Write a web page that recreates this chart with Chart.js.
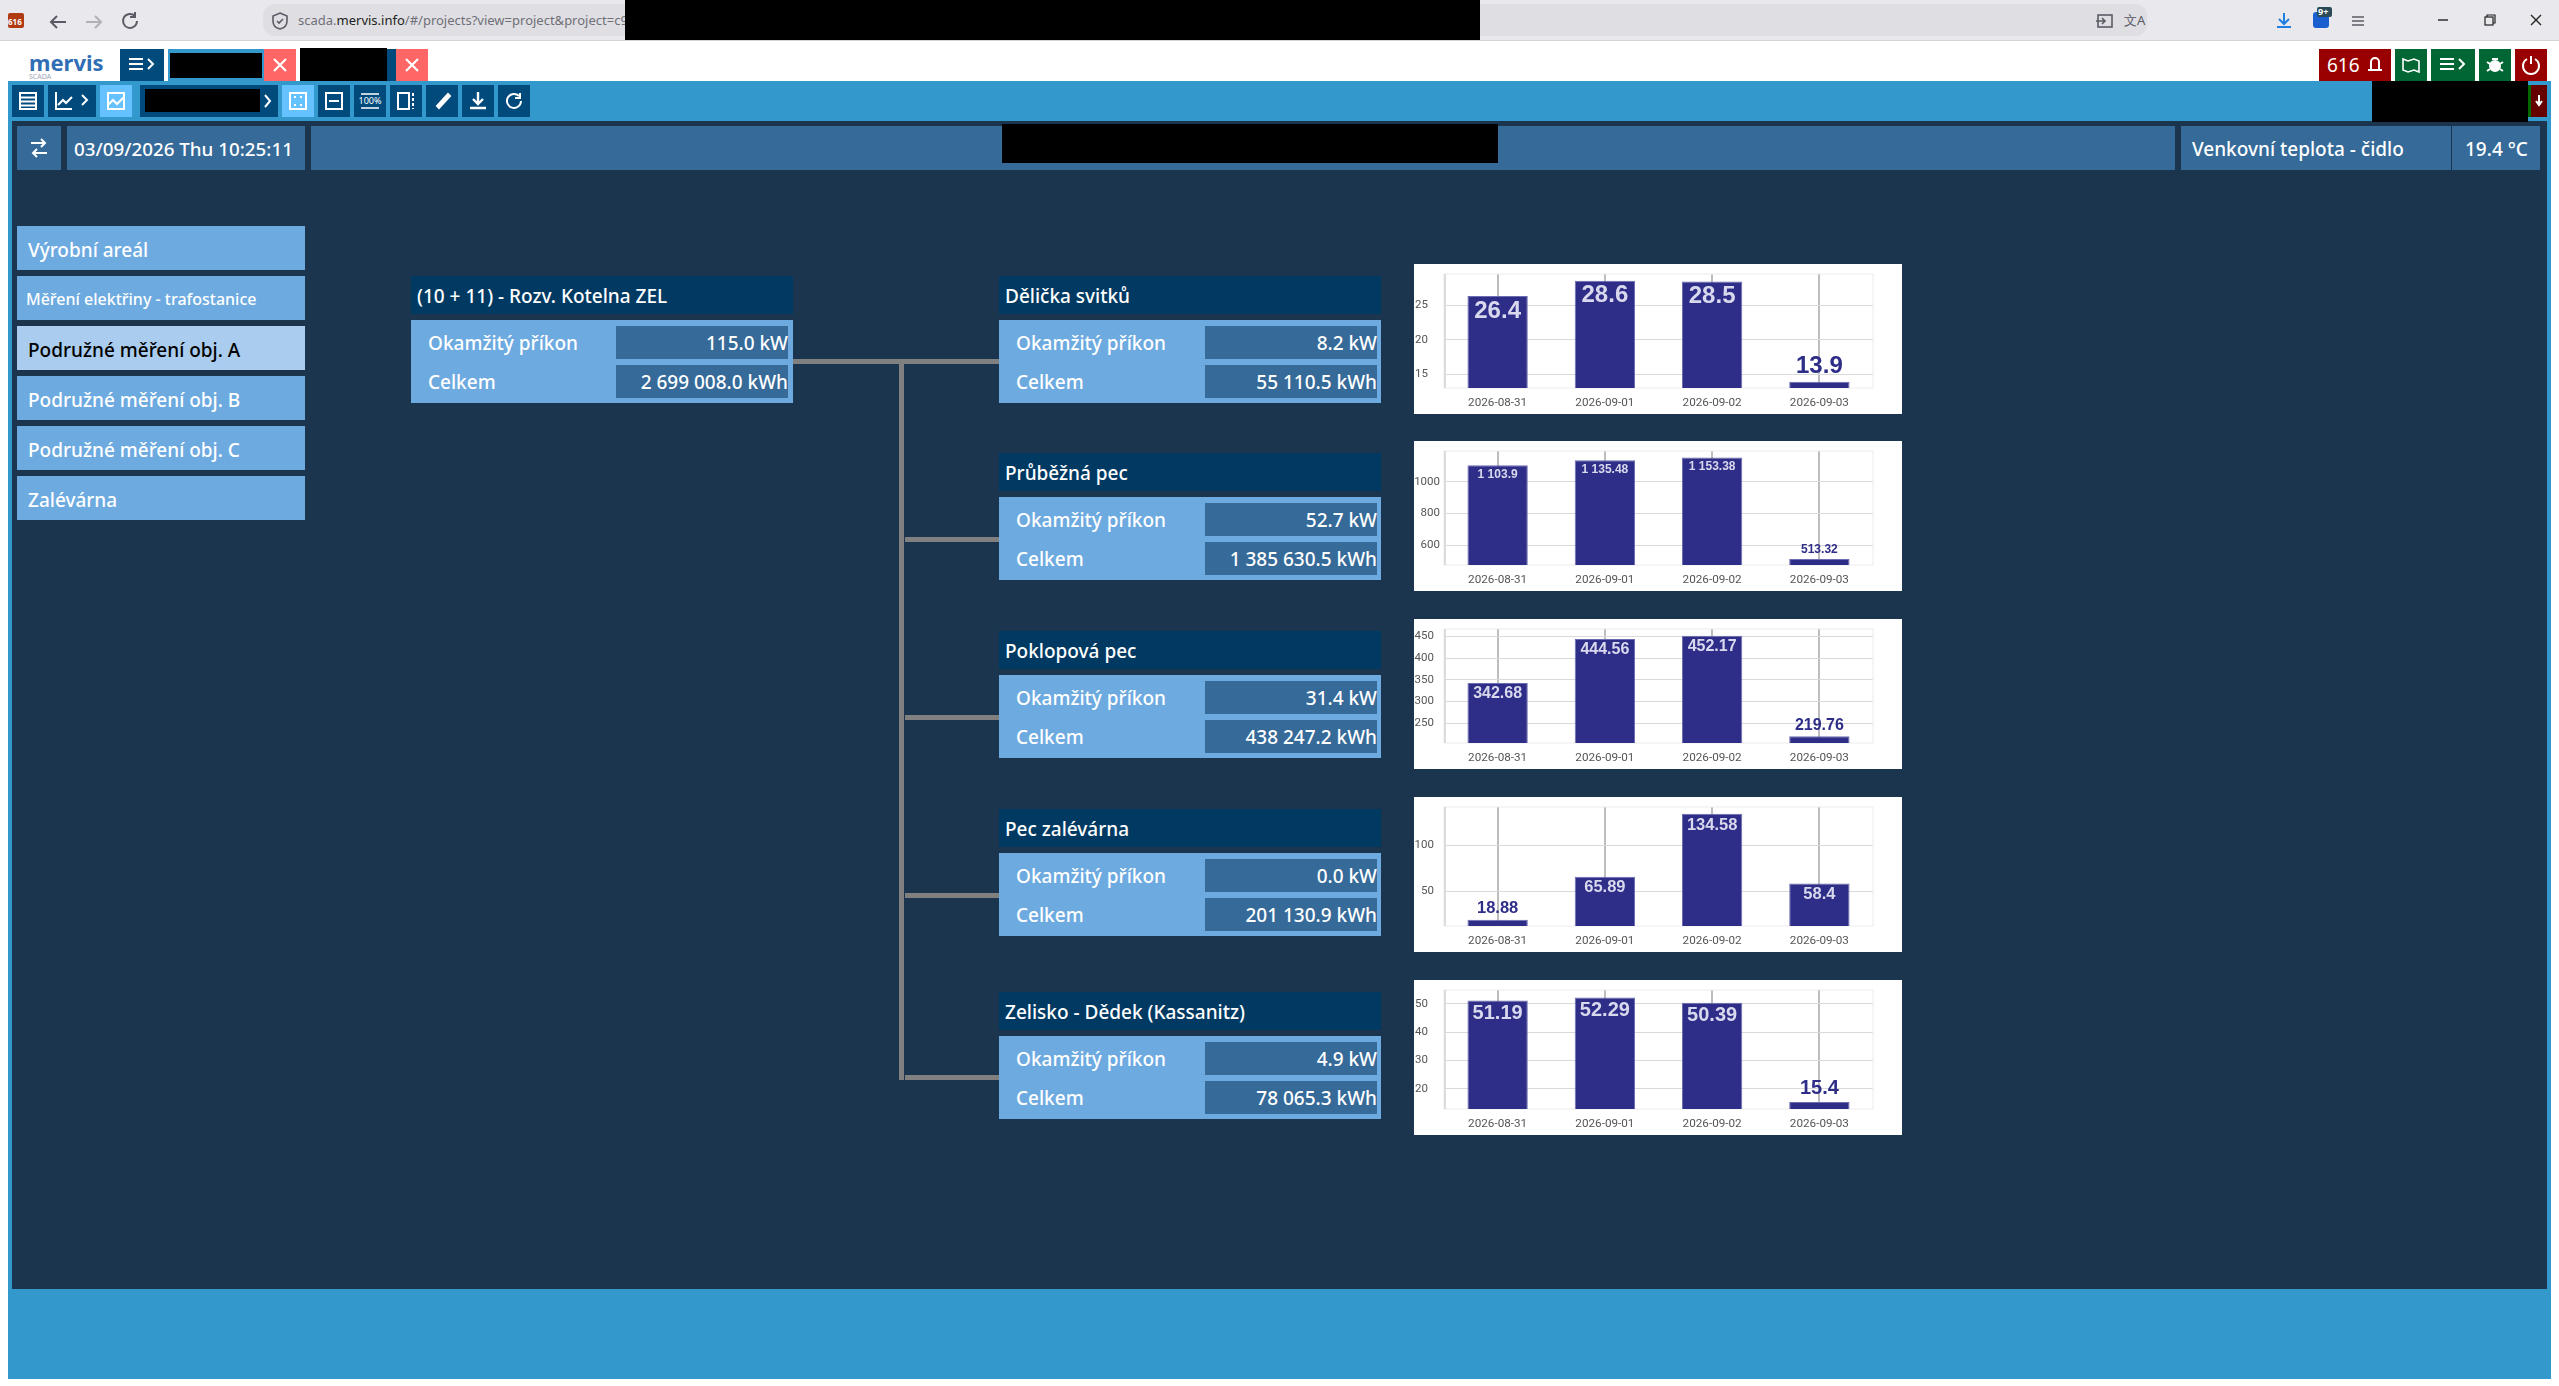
<!DOCTYPE html>
<html>
<head>
<meta charset="utf-8">
<title>mervis</title>
<script src="https://cdn.jsdelivr.net/npm/chart.js@4"></script>
<style>
html, body { margin: 0; padding: 0; background: #fff; width: 2559px; height: 1386px; overflow: hidden; font-family: "Noto Sans", sans-serif; }
.box { position: absolute; box-sizing: border-box; }
.txt { position: absolute; box-sizing: border-box; white-space: nowrap; color: #fff; display: flex; align-items: center; line-height: 1.1; }
.txt.right { justify-content: flex-end; }
canvas { display: block; }
svg { position: absolute; overflow: visible; }
</style>
</head>
<body>
<script>
const days = ["2026-08-31", "2026-09-01", "2026-09-02", "2026-09-03"];

// denni spotreba kWh
const delickaValues = [26.4, 28.6, 28.5, 13.9];
const prubeznaValues = [1103.9, 1135.48, 1153.38, 513.32];
const poklopovaValues = [342.68, 444.56, 452.17, 219.76];
const zalevarnaValues = [18.88, 65.89, 134.58, 58.4];
const zeliskoValues = [51.19, 52.29, 50.39, 15.4];

const delickaTicks = [15, 20, 25];
const prubeznaTicks = [600, 800, 1000];
const poklopovaTicks = [250, 300, 350, 400, 450];
const zalevarnaTicks = [50, 100];
const zeliskoTicks = [20, 30, 40, 50];

const panelNames = ["Dělička svitků", "Průběžná pec", "Poklopová pec", "Pec zalévárna", "Zelisko - Dědek (Kassanitz)"];
const panelPower = ["8.2 kW", "52.7 kW", "31.4 kW", "0.0 kW", "4.9 kW"];
const panelTotal = ["55 110.5 kWh", "1 385 630.5 kWh", "438 247.2 kWh", "201 130.9 kWh", "78 065.3 kWh"];
const menuItems = ["Výrobní areál", "Měření elektřiny - trafostanice", "Podružné měření obj. A", "Podružné měření obj. B", "Podružné měření obj. C", "Zalévárna"];

const BAR_COLOR = "#2e2d88";

function box(x, y, w, h, color, radius) {
    const d = document.createElement("div");
    d.className = "box";
    d.style.cssText = `left:${x}px;top:${y}px;width:${w}px;height:${h}px;background:${color};` + (radius ? `border-radius:${radius}px;` : "");
    document.body.appendChild(d);
    return d;
}

function text(str, x, y, w, h, size, opts) {
    opts = opts || {};
    const d = document.createElement("div");
    d.className = "txt" + (opts.right ? " right" : "");
    d.style.cssText = `left:${x}px;top:${y}px;width:${w}px;height:${h}px;font-size:${size}px;font-weight:${opts.weight || 500};color:${opts.color || "#fff"};`;
    d.textContent = str;
    document.body.appendChild(d);
    return d;
}

function icon(x, y, w, h, inner) {
    const ns = `<svg xmlns="http://www.w3.org/2000/svg" style="left:${x}px;top:${y}px" width="${w}" height="${h}" viewBox="0 0 ${w} ${h}" fill="none" stroke="#fff" stroke-width="2">${inner}</svg>`;
    document.body.insertAdjacentHTML("beforeend", ns);
}

// prohlizec nahore
box(0, 0, 2559, 40, "#e9e9ed");
box(0, 40, 2559, 1, "#d4d4d8");
box(263, 4, 1884, 32, "#dfdfe3", 12);
box(8, 13, 16, 15, "#b03a14", 2);
text("616", 8, 17, 16, 10, 8, { weight: 700 });
icon(48, 12, 20, 16, '<path d="M18 10H3M9 4l-6 6 6 6" stroke="#5b5b66"/>');
icon(84, 12, 20, 16, '<path d="M2 10h15M11 4l6 6-6 6" stroke="#b0b0b6"/>');
icon(120, 11, 18, 18, '<path d="M15 5a7 7 0 1 0 2 5M15 1v5h-5" stroke="#5b5b66"/>');
icon(272, 12, 16, 18, '<path d="M8 1l7 3v5c0 4-3 7-7 8-4-1-7-4-7-8V4z" stroke="#5b5b66" stroke-width="1.6"/><path d="M5 9l2 2 4-4" stroke="#5b5b66" stroke-width="1.6"/>');
const url = text("", 298, 4, 330, 32, 13, { color: "#6f6f78", weight: 400 });
url.innerHTML = 'scada.<span style="color:#222">mervis.info</span>/#/projects?view=project&amp;project=c9';
box(625, 0, 855, 40, "#000");
icon(2095, 13, 18, 16, '<rect x="3" y="2" width="14" height="12" stroke="#5b5b66" stroke-width="1.6"/><path d="M1 8h9M7 5l3 3-3 3" stroke="#5b5b66" stroke-width="1.6"/>');
text("文A", 2124, 10, 24, 20, 13, { color: "#5b5b66", weight: 400 });
icon(2276, 12, 16, 17, '<path d="M8 1v11M3 7l5 5 5-5M1 15h14" stroke="#1f7fe0"/>');
box(2313, 12, 16, 16, "#1a5fd0", 3);
box(2317, 7, 15, 10, "#2b4a58", 2);
text("9+", 2318, 7, 14, 10, 9, { weight: 700 });
icon(2351, 15, 14, 12, '<path d="M1 2h12M1 6h12M1 10h12" stroke="#5b5b66" stroke-width="1.4"/>');
icon(2438, 19, 12, 2, '<path d="M0 1h10" stroke="#222" stroke-width="1.4"/>');
icon(2484, 14, 12, 12, '<rect x="1" y="3" width="8" height="8" stroke="#222" stroke-width="1.2"/><path d="M3 3V1h8v8H9" stroke="#222" stroke-width="1.2"/>');
icon(2530, 14, 12, 12, '<path d="M1 1l10 10M11 1L1 11" stroke="#222" stroke-width="1.4"/>');

// horni radek aplikace
text("mervis", 29, 51, 76, 22, 22, { color: "#2f6eb5", weight: 700 });
text("SCADA", 29, 73, 30, 8, 7, { color: "#9aa6b5", weight: 400 });
box(120, 49, 44, 32, "#004a7c");
icon(129, 57, 26, 16, '<path d="M0 2h14M0 7h14M0 12h14M19 2l5 5-5 5" />');
box(168, 49, 96, 32, "#3398cc");
box(170, 53, 92, 25, "#000");
box(264, 49, 32, 32, "#ff6666");
icon(273, 58, 14, 14, '<path d="M1 1l12 12M13 1L1 13" stroke-width="2.2"/>');
box(387, 49, 9, 32, "#004a7c");
box(396, 49, 32, 32, "#ff6666");
icon(405, 58, 14, 14, '<path d="M1 1l12 12M13 1L1 13" stroke-width="2.2"/>');
box(300, 48, 87, 36, "#000");

box(2319, 49, 72, 32, "#990000");
text("616", 2327, 49, 36, 32, 19, { weight: 400 });
icon(2367, 56, 16, 18, '<path d="M4 14V6a4 4 0 0 1 8 0v8M1 14h14" />');
box(2395, 49, 32, 32, "#006633");
icon(2402, 57, 18, 16, '<path d="M1 2l5 2 6-2 5 2v11l-5-2-6 2-5-2z" stroke-width="1.6"/>');
box(2431, 49, 44, 32, "#006633");
icon(2440, 57, 26, 16, '<path d="M0 2h14M0 7h14M0 12h14M19 2l5 5-5 5" />');
box(2479, 49, 32, 32, "#006633");
icon(2487, 56, 16, 18, '<circle cx="8" cy="10" r="5" fill="#fff"/><path d="M0 6l3 2M16 6l-3 2M0 15l3-2M16 15l-3-2M5 3h6"/>');
box(2515, 49, 32, 32, "#990000");
icon(2522, 56, 18, 18, '<path d="M5 3a8 8 0 1 0 8 0M9 0v8"/>');

// modry ram a tmava plocha
box(8, 81, 2543, 1298, "#3398cc");
box(12, 121, 2535, 1168, "#1c354e");

// nastrojova lista
box(12, 85, 32, 32, "#004a7c");
icon(19, 92, 18, 18, '<rect x="1" y="1" width="16" height="16"/><path d="M1 5.5h16M1 9.5h16M1 13.5h16"/>');
box(48, 85, 48, 32, "#004a7c");
icon(55, 92, 34, 18, '<path d="M1 0v17h16M3 13l5-5 3 3 6-6M27 3l5 5-5 5"/>');
box(100, 85, 32, 32, "#66c2ff");
icon(107, 92, 18, 18, '<rect x="1" y="1" width="16" height="16"/><path d="M1 13l5-5 4 4 7-7"/>');
box(140, 85, 138, 32, "#004a7c");
box(145, 89, 115, 23, "#000");
icon(264, 94, 8, 14, '<path d="M1 1l5 6-5 6"/>');
box(282, 85, 32, 32, "#66c2ff");
icon(289, 92, 18, 18, '<rect x="1" y="1" width="16" height="16"/><path d="M5 5h2M11 5h2M5 13h2M11 13h2"/>');
box(318, 85, 32, 32, "#004a7c");
icon(325, 92, 18, 18, '<rect x="1" y="1" width="16" height="16"/><path d="M4 9h10"/>');
box(354, 85, 32, 32, "#004a7c");
text("100%", 354, 85, 32, 32, 9, { weight: 400 }).style.justifyContent = "center";
icon(361, 92, 18, 18, '<path d="M0 2h18M0 16h18" stroke-width="1.5"/>');
box(390, 85, 32, 32, "#004a7c");
icon(397, 92, 18, 18, '<rect x="1" y="1" width="11" height="16"/><path d="M16 1v16" stroke-dasharray="3 2"/>');
box(426, 85, 32, 32, "#004a7c");
icon(433, 92, 18, 18, '<path d="M4 14L15 2l2 2L6 16z" fill="#fff"/>');
box(462, 85, 32, 32, "#004a7c");
icon(469, 92, 18, 18, '<path d="M9 0v11M4 7l5 5 5-5M1 16h16" stroke-width="2.4"/>');
box(498, 85, 32, 32, "#004a7c");
icon(505, 92, 18, 18, '<path d="M14 4a7 7 0 1 0 2 5M15 1v5h-5"/>');
box(2528, 85, 3, 32, "#006600");
box(2531, 85, 16, 32, "#660000");
icon(2535, 95, 8, 12, '<path d="M4 0v9M1 6l3 4 3-4"/>');
box(2372, 81, 156, 41, "#000");

// radek s casem a teplotou
box(17, 126, 44, 44, "#356a99");
icon(30, 138, 18, 20, '<path d="M1 5h14M11 1l4 4-4 4M17 15H3M7 11l-4 4 4 4"/>');
box(67, 126, 238, 44, "#356a99");
text("03/09/2026 Thu 10:25:11", 74, 127, 230, 44, 18.8);
box(311, 126, 1864, 44, "#356a99");
box(1002, 124, 496, 39, "#000");
box(2181, 126, 270, 44, "#356a99");
text("Venkovní teplota - čidlo", 2192, 127, 250, 44, 19);
box(2452, 126, 88, 44, "#356a99");
text("19.4 °C", 2465, 127, 70, 44, 19);

// leve menu
menuItems.forEach((name, i) => {
    const y = 226 + i * 50;
    box(17, y, 288, 44, i === 2 ? "#aaccee" : "#6caae0");
    text(name, i === 1 ? 26 : 28, y + 3, 270, 42, i === 1 ? 16 : 19, { color: i === 2 ? "#000" : "#fff" });
});

// rozvody
box(793, 359, 206, 5, "#808080");
box(899, 359, 5, 721, "#808080");
const lineTops = [537, 715, 893, 1075];
lineTops.forEach(y => box(905, y, 94, 5, "#808080"));

function meterPanel(x, y, w, name, power, total, boxLeft, boxWidth) {
    box(x, y, w, 38, "#003a63");
    text(name, x + 6, y + 1, w - 10, 38, 19);
    box(x, y + 44, w, 83, "#6caae0");
    text("Okamžitý příkon", x + 17, y + 51, 200, 33, 19);
    text("Celkem", x + 17, y + 90, 200, 33, 19);
    box(boxLeft, y + 50, boxWidth, 33, "#356a99");
    box(boxLeft, y + 89, boxWidth, 33, "#356a99");
    text(power, boxLeft, y + 51, boxWidth, 33, 19, { right: true });
    text(total, boxLeft, y + 90, boxWidth, 33, 19, { right: true });
}

meterPanel(411, 276, 382, "(10 + 11) - Rozv. Kotelna ZEL", "115.0 kW", "2 699 008.0 kWh", 616, 172);
const panelTops = [276, 453, 631, 809, 992];
panelTops.forEach((y, i) => meterPanel(999, y, 382, panelNames[i], panelPower[i], panelTotal[i], 1205, 172));

// popisek nad sloupcem, uvnitr pokud je sloupec vysoky
const valueLabels = {
    id: "valueLabels",
    afterDatasetsDraw(chart, args, opts) {
        const ctx = chart.ctx;
        const meta = chart.getDatasetMeta(0);
        const bottom = chart.chartArea.bottom;
        ctx.save();
        ctx.font = `bold ${opts.size}px "Liberation Sans"`;
        ctx.textAlign = "center";
        ctx.textBaseline = "middle";
        meta.data.forEach((bar, i) => {
            const val = chart.data.datasets[0].data[i];
            const str = String(val).replace(/\B(?=(\d{3})+(?!\d))/, " ");
            const gap = opts.size / 2 + 3;
            const inside = bottom - bar.y > opts.size + 8;
            ctx.fillStyle = inside ? "#d9d9ee" : BAR_COLOR;
            ctx.fillText(str, bar.x, inside ? bar.y + gap : bar.y - gap);
        });
        ctx.restore();
    }
};

// ramecek kolem grafu
const plotFrame = {
    id: "plotFrame",
    beforeDatasetsDraw(chart) {
        const a = chart.chartArea;
        const ctx = chart.ctx;
        ctx.save();
        ctx.strokeStyle = "#ececec";
        ctx.lineWidth = 1;
        ctx.strokeRect(a.left, a.top, a.right - a.left, a.bottom - a.top);
        ctx.strokeStyle = "#dcdcdc";
        ctx.lineWidth = 2;
        ctx.beginPath();
        ctx.moveTo(a.left + 1, a.top);
        ctx.lineTo(a.left + 1, a.bottom);
        ctx.stroke();
        ctx.restore();
    }
};

function barChart(top, height, values, tickValues, yMin, yMax, labelSize, tickGap) {
    const wrap = box(1414, top, 488, height, "#fff");
    const canvas = document.createElement("canvas");
    canvas.width = 488;
    canvas.height = height;
    wrap.appendChild(canvas);

    new Chart(canvas.getContext("2d"), {
        type: "bar",
        data: {
            labels: days,
            datasets: [{
                data: values,
                backgroundColor: BAR_COLOR,
                borderColor: "#6c6cb0",
                borderWidth: 1,
                categoryPercentage: 0.75,
                barPercentage: 0.75
            }]
        },
        plugins: [plotFrame, valueLabels],
        options: {
            responsive: false,
            animation: false,
            devicePixelRatio: 1,
            layout: { autoPadding: false, padding: { top: 10, right: 29 } },
            plugins: {
                legend: { display: false },
                tooltip: { enabled: false },
                valueLabels: { size: labelSize }
            },
            scales: {
                x: {
                    afterFit(scale) { scale.height = 26; scale.paddingLeft = 0; scale.paddingRight = 0; },
                    border: { display: false },
                    grid: { offset: false, color: "#bdbdbd", lineWidth: 2, drawTicks: false },
                    ticks: { color: "#555", padding: 8, maxRotation: 0, font: { family: "Roboto", size: 11.7 } }
                },
                y: {
                    min: yMin,
                    max: yMax,
                    afterFit(scale) { scale.width = 30; scale.paddingTop = 0; scale.paddingBottom = 0; },
                    afterBuildTicks(scale) { scale.ticks = tickValues.map(v => ({ value: v })); },
                    border: { display: false },
                    grid: { color: "#d9d9d9", lineWidth: 1, drawTicks: false },
                    ticks: { color: "#555", padding: tickGap, callback: v => String(v), font: { family: "Roboto", size: 11.5 } }
                }
            }
        }
    });
}

barChart(264, 150, delickaValues, delickaTicks, 13, 29.6, 24, 16);
barChart(441, 150, prubeznaValues, prubeznaTicks, 475, 1194, 12, 4);
barChart(619, 150, poklopovaValues, poklopovaTicks, 204, 467.6, 16, 10);
barChart(797, 155, zalevarnaValues, zalevarnaTicks, 12, 142, 16.5, 10);
barChart(980, 155, zeliskoValues, zeliskoTicks, 12.9, 54.9, 20, 16);
</script>
</body>
</html>
